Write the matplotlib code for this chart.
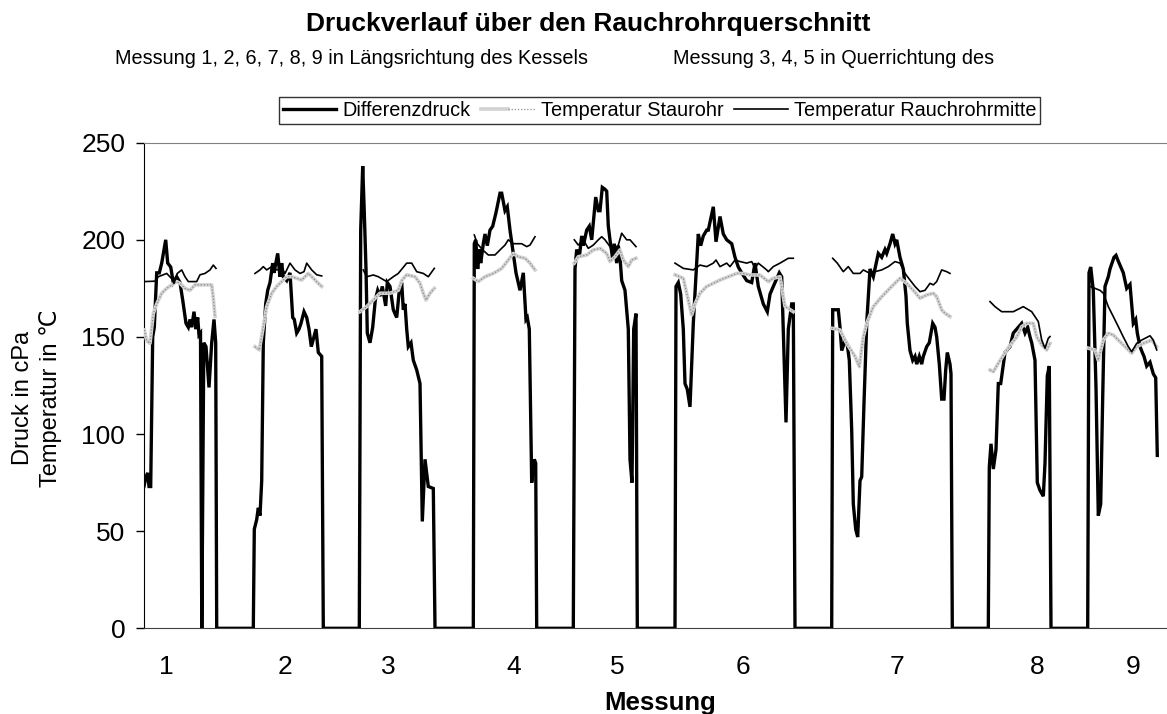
import matplotlib
matplotlib.use("Agg")
import matplotlib.pyplot as plt
from matplotlib.lines import Line2D
from matplotlib.legend_handler import HandlerTuple

plt.rcParams['font.family'] = ['Liberation Sans', 'DejaVu Sans']

# ---------------- data (sample index, value) ----------------
# Differenzdruck (continuous series, zeros between measurements)
dp_x = [0, 2, 3.7, 5, 6.7, 8.7, 10.3, 12.7, 15.3, 17.7, 21.7, 23.7, 26.7, 29.3, 32.7, 36, 38.7, 42, 44.3, 46,
        47.7, 50, 52, 53.7, 55, 56.5, 57.8, 59.8, 62, 65, 67.7, 70, 71.7, 72.7,
        109.3, 110.3, 112.7, 114.3, 116, 117.7, 119.3, 121.7, 123.7, 126, 128.7, 130, 133.7, 136, 137.7, 139.3,
        142.7, 146, 148.7, 150.3, 152.7, 155, 157, 160, 162.7, 165, 167.3, 172, 174.3, 177.7, 179.3,
        215.3, 216.7, 218.7, 220.3, 222, 223.3, 226, 228.7, 231.3, 233.7, 236, 238.3, 241.7, 243.3, 246,
        249.3, 252.7, 255.3, 257.7, 259.3, 261, 262.7, 264.3, 267, 269.3, 272.7, 276, 278.3, 281, 284.3,
        289.3, 291,
        329.3, 330.3, 331.7, 333.7, 335.3, 336.7, 339.3, 341, 343.3, 346, 348.7, 352, 356, 357.7, 361, 363.3,
        366, 369.3, 372, 376, 379.3, 382, 383.3, 385.3, 387.7, 390.3, 391.7, 392.7,
        429.3, 431, 432.7, 435.3, 437.7, 439.3, 442.7, 445.3, 447.7, 449.3, 451.7, 454.3, 456, 458.3, 461,
        462.7, 464.3, 466, 468.7, 470.3, 472.7, 474.3, 476, 477.7, 481, 484.3, 486, 488, 489.7, 492, 493.3,
        531, 532, 534.3, 536.7, 539.3, 541, 543.3, 546, 549.3, 554.3, 556.7, 559.3, 562.7, 564.3, 569.3, 572,
        576, 579.3, 582.7, 587.7, 591, 594.3, 597.7, 602.7, 607.7, 611, 614.3, 619.3, 623.3, 626, 629.3,
        635.3, 637.7, 642, 644.3, 647.7, 649.3, 651,
        687.7, 688.7, 694.3, 696, 697.7, 701, 703.3, 705.3, 707.7, 709.3, 711.7, 713.7, 716, 717.7, 720,
        722.7, 726, 729.3, 734.3, 737.7, 741, 742.7, 746, 748.7, 751, 752.7, 756, 759.3, 762, 763.3, 766,
        768.7, 771, 772.7, 775.3, 777.7, 779.3, 782.7, 785.3, 788.7, 791, 792.7, 795.3, 797.7, 800, 801.7,
        803.3, 806, 807, 808.3,
        844.3, 845.3, 847, 849.3, 852, 854.3, 856.7, 861, 862.7, 866, 869.3, 874.3, 877.7, 881, 883.7, 886,
        887.7, 891, 893.3, 896, 899.3, 901, 903.3, 905.3, 907,
        943.7, 945, 946.7, 949.3, 952, 954.3, 956.7, 958.7, 961, 964.3, 966, 970, 972, 974.3, 979.3, 982.7,
        986, 989.3, 991.7, 993.3, 996, 998.3, 1000, 1002.7, 1006, 1009.3, 1011.7, 1013.3]
dp_y = [73, 78, 80, 73, 73, 150, 155, 183, 183, 188, 200, 188, 186, 178, 181, 178, 169, 157, 155, 159,
        155, 163, 154, 160, 151, 152, 0, 147, 145, 124, 147, 159, 147, 0,
        0, 51, 56, 62, 58, 76, 147, 167, 174, 178, 188, 183, 193, 181, 188, 181,
        179, 183, 160, 159, 152, 154, 157, 163, 160, 154, 145, 154, 142, 140, 0,
        0, 205, 238, 214, 185, 152, 147, 155, 169, 174, 171, 176, 166, 178, 176,
        164, 160, 174, 178, 164, 167, 154, 145, 147, 138, 133, 126, 55, 87, 73,
        72, 0,
        0, 198, 200, 185, 195, 188, 198, 203, 197, 205, 207, 214, 224, 224, 215, 217,
        205, 193, 183, 174, 183, 159, 160, 154, 75, 87, 85, 0,
        0, 185, 195, 191, 202, 197, 205, 207, 200, 209, 222, 215, 215, 227, 226,
        225, 207, 200, 190, 198, 188, 197, 191, 179, 174, 154, 87, 75, 154, 162, 0,
        0, 176, 178, 172, 154, 126, 123, 114, 157, 203, 197, 202, 205, 205, 217, 199,
        212, 203, 200, 198, 191, 186, 183, 179, 178, 188, 176, 167, 163, 172, 176,
        183, 181, 106, 154, 167, 167, 0,
        0, 164, 164, 155, 143, 148, 146, 138, 102, 64, 51, 47, 76, 78, 116,
        157, 185, 181, 193, 191, 195, 193, 198, 203, 198, 200, 191, 185, 171, 157, 143,
        138, 140, 136, 140, 136, 140, 145, 147, 157, 155, 150, 136, 118, 118, 133,
        142, 136, 131, 0,
        0, 83, 95, 82, 92, 126, 126, 142, 143, 145, 152, 155, 157, 152, 155, 150,
        147, 138, 75, 71, 68, 85, 130, 135, 0,
        0, 183, 186, 174, 124, 58, 64, 119, 176, 181, 185, 191, 192, 189, 183, 175,
        177, 157, 159, 152, 145, 142, 140, 135, 137, 131, 129, 89]

# Temperatur Staurohr, one list per Messung
ts_x = [[0.3, 2.7, 6, 9.3, 12.7, 17.7, 22.7, 27.7, 32.7, 36, 41, 46, 51, 67.7, 69.3, 71],
        [111, 115.3, 119.3, 122.7, 127.7, 132.7, 137.7, 142.7, 147.7, 152.7, 157.7, 161, 164.3, 169.3, 174.3, 177.7],
        [216, 222.7, 229.3, 236, 246, 254.3, 257.7, 262.7, 271, 276, 279.3, 282, 286, 290.3],
        [329.3, 334.3, 341, 349.3, 357.7, 364.3, 369.3, 374.3, 381, 386, 391],
        [430.3, 434.3, 442.7, 449.3, 456, 462.7, 466, 471, 476, 479.3, 484.3, 487.7, 492],
        [531, 539.3, 542.7, 547.7, 551, 556, 562.7, 569.3, 576, 584.3, 592.7, 599.3, 606, 616, 624.3, 629.3, 636, 641, 649.3],
        [687.7, 696, 702.7, 711, 715.3, 719.3, 722.7, 729.3, 737.7, 747.7, 756, 762.7, 769.3, 776, 782.7, 789.3, 792.7, 797.7, 801, 806],
        [846, 849.3, 854.3, 862.7, 872.7, 877.7, 882.7, 889.3, 892.7, 897.7, 902.7, 906],
        [944.3, 951, 954.3, 959.3, 964.3, 969.3, 974.3, 981, 987.7, 992.7, 999.3, 1007.7, 1012.7]]
ts_y = [[153.6, 148, 146.7, 162, 167, 172.5, 175, 176.8, 178.5, 177.6, 175, 174, 176.8, 176.8, 170, 160.5],
        [145, 143.3, 155.3, 165.6, 172.5, 176, 178.5, 181, 181, 180.2, 179.3, 181, 182.7, 180.2, 177.6, 176],
        [163, 165.6, 169, 172.5, 172.5, 174, 179, 182, 181, 177.6, 172.5, 169, 172.5, 175],
        [180.2, 178.5, 181, 182.7, 185.3, 189.6, 193, 191.3, 190.5, 188, 184.5],
        [188, 191.3, 192.2, 194.8, 195.6, 193, 188.8, 191.3, 194.8, 189.6, 186.2, 189.6, 190.5],
        [182, 180.2, 172.5, 161.3, 167, 172.5, 176, 177.6, 179.3, 181, 182.7, 182.7, 181.9, 181.9, 178.5, 180.2, 181, 165.7, 163],
        [154.5, 153.6, 146.7, 140, 134.7, 150, 157, 165.6, 170.7, 176, 180.2, 177.6, 174, 169.9, 171.6, 172.5, 170.7, 163.9, 162.2, 160.5],
        [133, 132.1, 136.4, 143.3, 150, 155.3, 157, 157, 150, 145.9, 143.3, 146.7],
        [144.2, 143.3, 138, 148.4, 151.9, 151, 148.4, 145, 141.6, 145, 146.7, 148.4, 145]]

# Temperatur Rauchrohrmitte, one list per Messung
tm_x = [[0.3, 11, 14.3, 22.7, 27.7, 30, 33.3, 37.7, 41, 44.3, 52.7, 56, 61, 66, 69.3, 72],
        [111, 116, 119.3, 122.7, 127.7, 132.7, 137.7, 141, 146, 151, 156, 160, 162.7, 167.7, 172.7, 177.7],
        [219.3, 222.7, 229.3, 234.3, 242.7, 249.3, 254.3, 262.7, 267.7, 272.7, 279.3, 284.3, 290.3],
        [330.3, 333.3, 338.7, 344.3, 351, 356, 361, 364.3, 369.3, 377.7, 382.7, 386, 391],
        [430.3, 434.3, 439.3, 444.3, 449.3, 454.3, 457.7, 461, 466, 471, 474.3, 477.7, 482.7, 486, 492],
        [531, 539.3, 549.3, 556, 562.7, 569.3, 572, 576, 582.7, 586, 591, 596, 602.7, 607.7, 611, 614.3, 622.7, 624.3, 629.3, 636, 644.3, 649.3],
        [688.7, 693.3, 699.3, 704.3, 709.3, 716, 719.3, 726, 731, 737.7, 744.3, 751, 756, 761, 766, 771, 776, 781, 786, 789.3, 792.7, 797.7, 802.7, 806],
        [846, 851, 857.7, 869.3, 879.3, 887.7, 894.3, 897.7, 901, 904.3, 906],
        [946, 956, 959.3, 964.3, 969.3, 974.3, 979.3, 984.3, 987.7, 992.7, 997.7, 1006, 1009.3, 1012.7]]
tm_y = [[178.5, 178.7, 181, 182.7, 180, 177.6, 182.7, 184.5, 181, 178.5, 178.5, 182, 182.7, 184.5, 187, 185.3],
        [182.7, 184.5, 186.2, 184.5, 186.2, 184.5, 185.3, 182.7, 188, 184.5, 182.7, 183.6, 188, 184.5, 182, 181.4],
        [184.5, 181, 181.9, 181, 178.5, 181, 182.7, 188, 188, 183.6, 182.7, 181, 185.3],
        [202.5, 198, 194.8, 192.2, 192.2, 194.8, 197.3, 200, 198, 198, 196.5, 197.3, 201.6],
        [200, 197.3, 200, 195.6, 197.3, 200, 201.6, 200, 196.5, 194, 197.3, 203.4, 200, 200, 196.5],
        [188, 185.3, 184.5, 187, 186.2, 188, 189.6, 186.2, 188, 186.2, 189.6, 188.8, 188, 188.8, 185.3, 188, 184.5, 183.6, 186.2, 188, 190.5, 190.5],
        [190.5, 188, 183.6, 186.2, 182.7, 182.7, 184.5, 182.7, 183.6, 184.5, 186.2, 188.8, 188, 182.7, 179.3, 176, 173.3, 174, 177.6, 176.8, 178.5, 184.5, 183.6, 182.7],
        [168.2, 165.6, 163, 163, 165.6, 163, 157.9, 148.4, 144.2, 149.3, 150.2],
        [176, 174, 172.5, 165.6, 160.5, 155.3, 150, 145, 142.4, 146.7, 148.4, 150.6, 148.4, 143.3]]

tick_pos = [22.7, 141, 244.4, 370, 473.5, 598.7, 752.7, 893, 989]
tick_labels = ["1", "2", "3", "4", "5", "6", "7", "8", "9"]
y_ticks = [0, 50, 100, 150, 200, 250]

# ---------------- figure ----------------
W, H = 1167, 714
fig = plt.figure(figsize=(W / 100, H / 100), dpi=100)
left, right = 144 / W, 1.0
bottom, top = 1 - 628.3 / H, 1 - 142.7 / H
ax = fig.add_axes([left, bottom, right - left, top - bottom])

ax.plot(dp_x, dp_y, color='black', lw=2.4, solid_joinstyle='miter', zorder=3)
for xs, ys in zip(ts_x, ts_y):
    ax.plot(xs, ys, color='#d2d2d2', lw=2.6, zorder=4)
    ax.plot(xs, ys, color='#8c8c8c', lw=0.9, dashes=(1, 1.5), zorder=4.1)
for xs, ys in zip(tm_x, tm_y):
    ax.plot(xs, ys, color='black', lw=1.2, zorder=5)

ax.set_xlim(0, W - 144)
ax.set_ylim(0, 250)
ax.set_yticks(y_ticks)
ax.set_xticks(tick_pos)
ax.set_xticklabels(tick_labels)
ax.tick_params(axis='y', direction='out', length=5.5, width=1, labelsize=19, pad=8)
ax.tick_params(axis='x', length=0, labelsize=19, pad=19)
ax.spines['right'].set_visible(False)
ax.spines['top'].set_color('#808080')
ax.spines['left'].set_color('black')
ax.spines['bottom'].set_color('#404040')

fig.text(660 / W, 1 - 710 / H, "Messung", ha='center', va='baseline',
         fontsize=18.5, fontweight='bold')
fig.text(37 / W, 1 - 398 / H, "Druck in cPa\nTemperatur in ℃", ha='center', va='center',
         rotation=90, fontsize=17, linespacing=1.27, multialignment='center')

fig.text(588 / W, 1 - 24 / H, "Druckverlauf über den Rauchrohrquerschnitt",
         ha='center', va='center', fontsize=19, fontweight='bold')
fig.text(115 / W, 1 - 58 / H, "Messung 1, 2, 6, 7, 8, 9 in Längsrichtung des Kessels",
         ha='left', va='center', fontsize=14.3)
fig.text(673 / W, 1 - 58 / H, "Messung 3, 4, 5 in Querrichtung des",
         ha='left', va='center', fontsize=14.3)

h1 = Line2D([], [], color='black', lw=2.4)
h2a = Line2D([], [], color='#d2d2d2', lw=2.6)
h2b = Line2D([], [], color='#8c8c8c', lw=0.9, dashes=(1, 1.5))
h3 = Line2D([], [], color='black', lw=1.2)
leg = fig.legend([h1, (h2a, h2b), h3],
                 ["Differenzdruck", "Temperatur Staurohr", "Temperatur Rauchrohrmitte"],
                 handler_map={tuple: HandlerTuple(ndivide=None, pad=0)},
                 loc='center', bbox_to_anchor=(659.5 / W, 1 - 110.5 / H), ncol=3,
                 fontsize=14.3, frameon=True, fancybox=False, handlelength=2.7,
                 handletextpad=0.3, columnspacing=0.55, borderpad=0.2, borderaxespad=0)
leg.get_frame().set_edgecolor('black')
leg.get_frame().set_linewidth(1.0)

fig.savefig("out.png", dpi=100)
